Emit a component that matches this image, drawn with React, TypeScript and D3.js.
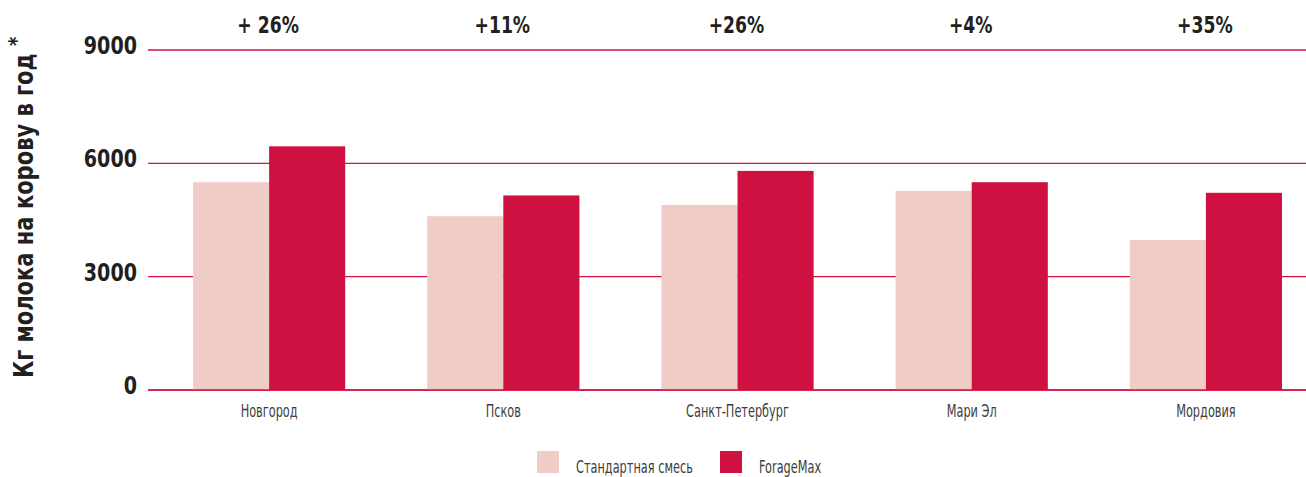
import React from "react";
import * as d3 from "d3";

const categories = ["Новгород", "Псков", "Санкт-Петербург", "Мари Эл", "Мордовия"];
const standardValues = [5500, 4600, 4900, 5270, 3970];
const forageValues = [6450, 5150, 5800, 5500, 5220];
const growthLabels = ["+ 26%", "+11%", "+26%", "+4%", "+35%"];
const yTicks = [0, 3000, 6000, 9000];
const seriesNames = ["Стандартная смесь", "ForageMax"];
const colors = ["#F0CCC6", "#CE1140"];

const W = 1306;
const H = 477;
const condensed = "'DejaVu Sans Condensed', 'DejaVu Sans', sans-serif";

function T({ x, y, sx, anchor = "start", size, bold = false, fill = "#231F20", rotate = 0, children }: any) {
  return (
    <g transform={`translate(${x},${y}) rotate(${rotate}) scale(${sx},1)`}>
      <text textAnchor={anchor} fontFamily={condensed} fontWeight={bold ? "bold" : "normal"} fontSize={size} fill={fill}>
        {children}
      </text>
    </g>
  );
}

export default function App() {
  const x = d3.scaleBand().domain(categories).range([152, 1323]).paddingInner(0.35).paddingOuter(0.175);
  const xs = d3.scaleBand().domain(["s", "f"]).range([0, x.bandwidth()]);
  const y = d3.scaleLinear().domain([0, 9000]).range([390, 50]);

  return (
    <svg width={W} height={H} style={{ position: "absolute", left: 0, top: 0 }}>
      {yTicks.map((t) => (
        <g key={t}>
          <line x1={148} x2={W} y1={y(t)} y2={y(t)} stroke="#D2153F" strokeWidth={1.4} />
          <T x={137} y={y(t) + 4} sx={0.85} anchor="end" size={25} bold>
            {t}
          </T>
        </g>
      ))}
      {categories.map((c, i) => (
        <g key={c}>
          <rect x={x(c)! + xs("s")!} y={y(standardValues[i])} width={xs.bandwidth()} height={y(0) - y(standardValues[i])} fill={colors[0]} />
          <rect x={x(c)! + xs("f")!} y={y(forageValues[i])} width={xs.bandwidth()} height={y(0) - y(forageValues[i])} fill={colors[1]} />
          <T x={x(c)! + x.bandwidth() / 2} y={417} sx={0.72} anchor="middle" size={17.5} fill="#3d3d3d">
            {c}
          </T>
          <T x={x(c)! + x.bandwidth() / 2 - 1} y={33} sx={0.85} anchor="middle" size={22.5} bold>
            {growthLabels[i]}
          </T>
        </g>
      ))}
      <line x1={148} x2={W} y1={y(0)} y2={y(0)} stroke="#D2153F" strokeWidth={1.4} />
      <T x={33} y={378} sx={0.9} rotate={-90} size={26} bold>
        Кг молока на корову в год <tspan dy={-9} fontSize={22}>*</tspan>
      </T>
      {seriesNames.map((s, i) => {
        const lx = i === 0 ? 537 : 720;
        return (
          <g key={s}>
            <rect x={lx} y={451} width={22} height={22} fill={colors[i]} />
            <T x={lx + 39} y={473} sx={0.72} size={17.5} fill="#3d3d3d">
              {s}
            </T>
          </g>
        );
      })}
    </svg>
  );
}
